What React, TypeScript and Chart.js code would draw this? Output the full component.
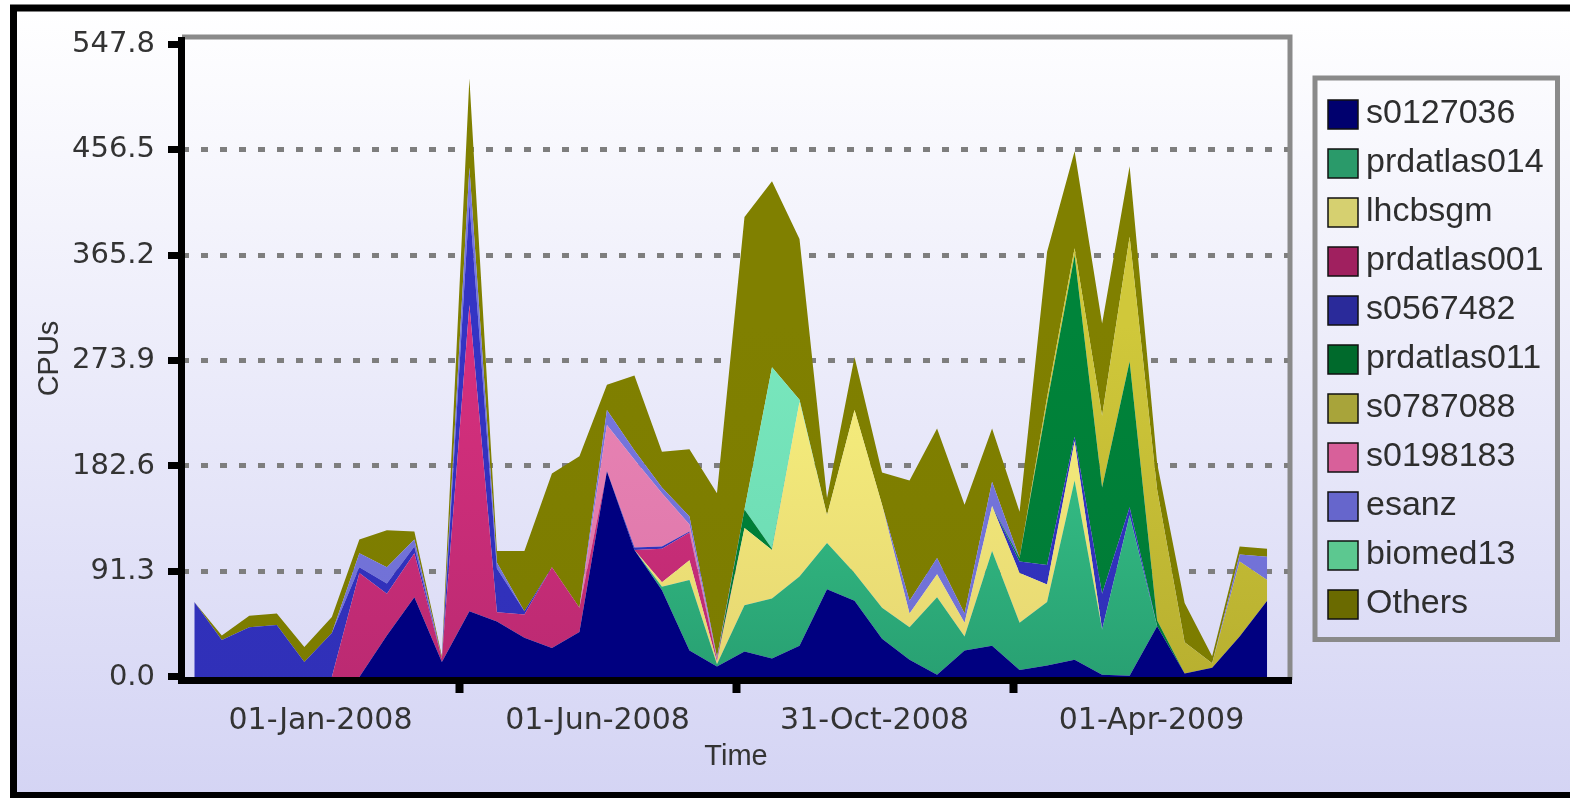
import React, { useEffect, useRef } from 'react';
import { Chart, registerables } from 'chart.js';

Chart.register(...registerables);

// ---- data ----
const samplePoints = [0, 1, 2, 3, 4, 5, 6, 7, 8, 9, 10, 11, 12, 13, 14, 15, 16, 17, 18, 19, 20, 21, 22, 23, 24, 25, 26, 27, 28, 29, 30, 31, 32, 33, 34, 35, 36, 37, 38, 39];

const seriesNames = ['s0127036', 'prdatlas014', 'lhcbsgm', 'prdatlas001', 's0567482', 'prdatlas011', 's0787088', 's0198183', 'esanz', 'biomed13', 'Others'];

const s0127036 = [0, 0, 0, 0, 0, 0, 0, 36, 69, 13, 57, 48, 34, 25, 39, 178, 110, 75, 23, 9, 22, 16, 27, 76, 66, 33, 15, 2, 23, 27, 6, 10, 15, 2, 1, 44, 3, 8, 35, 66];
const prdatlas014 = [0, 0, 0, 0, 0, 0, 0, 0, 0, 0, 0, 0, 0, 0, 0, 0, 0, 3, 61, 2, 40, 52, 60, 40, 24, 27, 28, 67, 12, 82, 41, 55, 155, 39, 139, 0, 0, 0, 0, 0];
const lhcbsgm = [0, 0, 0, 0, 0, 0, 0, 0, 0, 0, 0, 0, 0, 0, 0, 0, 0, 4, 17, 2, 67, 42, 151, 24, 141, 89, 12, 20, 12, 39, 43, 15, 34, 0, 0, 0, 0, 0, 0, 0];
const prdatlas001 = [0, 0, 0, 0, 0, 0, 90, 36, 38, 3, 265, 8, 20, 70, 21, 0, 0, 29, 24, 2, 0, 0, 0, 0, 0, 0, 0, 0, 0, 0, 0, 0, 0, 0, 0, 0, 0, 0, 0, 0];
const s0567482 = [65, 32, 43, 45, 13, 38, 5, 9, 6, 0, 89, 38, 3, 0, 0, 0, 2, 2, 1, 0, 0, 0, 0, 0, 0, 0, 0, 0, 0, 0, 10, 17, 4, 31, 7, 0, 0, 0, 0, 0];
const prdatlas011 = [0, 0, 0, 0, 0, 0, 0, 0, 0, 0, 0, 0, 0, 0, 0, 0, 0, 0, 0, 0, 16, 1, 0, 0, 0, 0, 0, 0, 0, 0, 3, 140, 157, 92, 126, 5, 0, 0, 0, 0];
const s0787088 = [0, 0, 0, 0, 0, 0, 0, 0, 0, 0, 0, 0, 0, 0, 0, 0, 0, 0, 0, 0, 0, 0, 0, 0, 0, 0, 0, 0, 0, 0, 0, 5, 6, 62, 108, 113, 27, 4, 65, 18];
const s0198183 = [0, 0, 0, 0, 0, 0, 0, 0, 0, 0, 0, 0, 0, 0, 0, 40, 76, 46, 6, 1, 0, 0, 0, 0, 0, 0, 0, 0, 0, 0, 0, 0, 0, 0, 0, 0, 0, 0, 0, 0];
const esanz = [0, 0, 0, 0, 0, 0, 12, 14, 6, 0, 30, 5, 0, 0, 0, 13, 8, 5, 7, 1, 0, 0, 0, 0, 0, 0, 11, 14, 8, 21, 0, 0, 0, 0, 0, 0, 0, 0, 6, 20];
const biomed13 = [0, 0, 0, 0, 0, 0, 0, 0, 0, 0, 0, 0, 0, 0, 0, 0, 0, 0, 0, 0, 0, 157, 2, 0, 0, 0, 0, 0, 0, 0, 0, 0, 0, 0, 0, 0, 0, 0, 0, 0];
const others = [0, 4, 10, 10, 13, 14, 12, 32, 7, 2, 77, 10, 52, 81, 131, 22, 65, 31, 58, 142, 253, 161, 139, 15, 46, 28, 104, 112, 94, 46, 40, 126, 84, 80, 61, 23, 34, 6, 7, 7];

const seriesValues = [s0127036, prdatlas014, lhcbsgm, prdatlas001, s0567482, prdatlas011, s0787088, s0198183, esanz, biomed13, others];

const yTickValues = [0, 91.3, 182.6, 273.9, 365.2, 456.5, 547.8];
const xTickLabels = ['01-Jan-2008', '01-Jun-2008', '31-Oct-2008', '01-Apr-2009'];

// ---- styles ----
const areaTopColors = ['#000080', '#3ccf90', '#f8f27e', '#d8307e', '#3434c4', '#00843a', '#d0c83a', '#ea86b6', '#7676de', '#7ae8be', '#808000'];
const areaBottomColors = ['#000080', '#28a072', '#e6d672', '#bb2a72', '#3030b8', '#007a36', '#b8b030', '#dc74a8', '#7070d4', '#68d8b0', '#7c7c00'];
const legendColors = ['#00006e', '#2a9a6a', '#d6d070', '#a0205f', '#2a2a9a', '#006a2c', '#a8a43a', '#d8609a', '#6666cc', '#5cc890', '#6a6a00'];

const X_MIN = -0.447;
const X_MAX = 39.83;
const Y_MIN = -2.6;
const Y_MAX = 553.86;

const xTickPositions = (() => {
  const step = (X_MAX - X_MIN) / 8;
  const arr: number[] = [];
  for (let k = 0; k <= 8; k++) arr.push(X_MIN + k * step);
  return arr;
})();

const decorPlugin = {
  id: 'decor',
  beforeDraw(chart: any) {
    const ctx = chart.ctx;
    const W = chart.width;
    const H = chart.height;
    ctx.save();
    ctx.fillStyle = '#ffffff';
    ctx.fillRect(0, 0, W, H);
    const g = ctx.createLinearGradient(0, 8, 0, 796);
    g.addColorStop(0, '#ffffff');
    g.addColorStop(1, '#d4d4f4');
    ctx.fillStyle = g;
    ctx.fillRect(13, 8, W - 13, H - 8);
    ctx.restore();
  },
  afterDatasetsDraw(chart: any) {
    const { ctx, chartArea: ca } = chart;
    ctx.save();
    ctx.strokeStyle = '#8a8a8a';
    ctx.lineWidth = 5;
    ctx.beginPath();
    ctx.moveTo(ca.left, ca.top);
    ctx.lineTo(ca.right, ca.top);
    ctx.lineTo(ca.right, ca.bottom);
    ctx.stroke();
    ctx.fillStyle = '#000000';
    ctx.fillRect(ca.left - 4, ca.top, 7, ca.bottom - ca.top + 4);
    ctx.fillRect(ca.left - 4, ca.bottom - 3, ca.right - ca.left + 6, 7);
    ctx.restore();
  },
  afterDraw(chart: any) {
    const ctx = chart.ctx;
    ctx.save();
    ctx.strokeStyle = '#000000';
    ctx.lineWidth = 7;
    ctx.strokeRect(13.5, 8, 1600, 787.5);
    ctx.strokeStyle = '#8a8a8a';
    ctx.lineWidth = 5;
    ctx.strokeRect(1315, 78, 242.5, 561.5);
    ctx.font = '34px "Liberation Sans", Arial, sans-serif';
    ctx.textBaseline = 'middle';
    ctx.textAlign = 'left';
    chart.data.datasets.forEach((ds: any, k: number) => {
      const y0 = 100 + k * 49;
      ctx.fillStyle = legendColors[k];
      ctx.fillRect(1328, y0, 30, 29);
      ctx.strokeStyle = '#111111';
      ctx.lineWidth = 1.5;
      ctx.strokeRect(1328, y0, 30, 29);
      ctx.fillStyle = '#2e2e2e';
      ctx.fillText(ds.label, 1366, y0 + 14);
    });
    ctx.restore();
  },
};

export default function App() {
  const canvasRef = useRef<HTMLCanvasElement | null>(null);

  useEffect(() => {
    const canvas = canvasRef.current;
    if (!canvas) return;
    const datasets = seriesNames.map((name, k) => ({
      label: name,
      data: samplePoints.map((x, i) => ({ x, y: seriesValues[k][i] })),
      fill: k === 0 ? 'origin' : '-1',
      backgroundColor: (c: any) => {
        const ca = c.chart.chartArea;
        if (!ca) return areaBottomColors[k];
        const g = c.chart.ctx.createLinearGradient(0, ca.top, 0, ca.bottom);
        g.addColorStop(0, areaTopColors[k]);
        g.addColorStop(0.45, areaTopColors[k]);
        g.addColorStop(1, areaBottomColors[k]);
        return g;
      },
      borderColor: 'rgba(0,0,0,0)',
      borderWidth: 0,
      pointRadius: 0,
      pointHoverRadius: 0,
      tension: 0,
    }));

    const chart = new Chart(canvas, {
      type: 'line',
      data: { datasets } as any,
      plugins: [decorPlugin],
      options: {
        animation: false,
        responsive: false,
        devicePixelRatio: 1,
        layout: { padding: { left: 0, top: 37, right: 280, bottom: 0 } },
        plugins: { legend: { display: false }, tooltip: { enabled: false } },
        scales: {
          x: {
            type: 'linear',
            min: X_MIN,
            max: X_MAX,
            afterBuildTicks: (scale: any) => {
              scale.ticks = xTickPositions.map((v) => ({ value: v }));
            },
            afterFit: (scale: any) => {
              scale.height = 118;
            },
            ticks: {
              autoSkip: false,
              maxRotation: 0,
              padding: 10,
              color: '#333333',
              font: { family: '"DejaVu Sans", sans-serif', size: 30 },
              callback: (_v: any, index: number) => (index % 2 === 1 ? xTickLabels[(index - 1) / 2] : ''),
            },
            grid: {
              drawOnChartArea: false,
              drawTicks: true,
              tickLength: 13,
              tickWidth: 8,
              tickColor: (ctx: any) => (ctx.index % 2 === 0 && ctx.index > 0 && ctx.index < 8 ? '#000000' : 'rgba(0,0,0,0)'),
            },
            border: { display: false },
            title: {
              display: true,
              text: 'Time',
              color: '#333333',
              font: { family: '"Liberation Sans", Arial, sans-serif', size: 29 },
              padding: { top: 0, bottom: 23.6 },
            },
          },
          y: {
            type: 'linear',
            stacked: true,
            min: Y_MIN,
            max: Y_MAX,
            afterBuildTicks: (scale: any) => {
              scale.ticks = yTickValues.map((v) => ({ value: v }));
            },
            afterFit: (scale: any) => {
              scale.width = 182;
            },
            ticks: {
              padding: 13,
              color: '#333333',
              font: { family: '"DejaVu Sans", sans-serif', size: 29 },
              callback: (v: any) => Number(v).toFixed(1),
            },
            grid: {
              lineWidth: 5,
              color: (ctx: any) => {
                const v = ctx.tick ? ctx.tick.value : 0;
                return v === 0 || v === 547.8 ? 'rgba(0,0,0,0)' : '#7e7e7e';
              },
              drawTicks: true,
              tickLength: 14,
              tickWidth: 7,
              tickColor: '#000000',
            },
            border: { display: false, dash: [7, 12] },
            title: {
              display: true,
              text: 'CPUs',
              color: '#333333',
              font: { family: '"Liberation Sans", Arial, sans-serif', size: 29 },
              padding: { top: 32.6, bottom: 0 },
            },
          },
        },
      } as any,
    });
    return () => chart.destroy();
  }, []);

  return (
    <div style={{ position: 'fixed', left: 0, top: 0, width: 1570, height: 798 }}>
      <canvas ref={canvasRef} width={1570} height={798} style={{ display: 'block', width: 1570, height: 798 }} />
    </div>
  );
}
